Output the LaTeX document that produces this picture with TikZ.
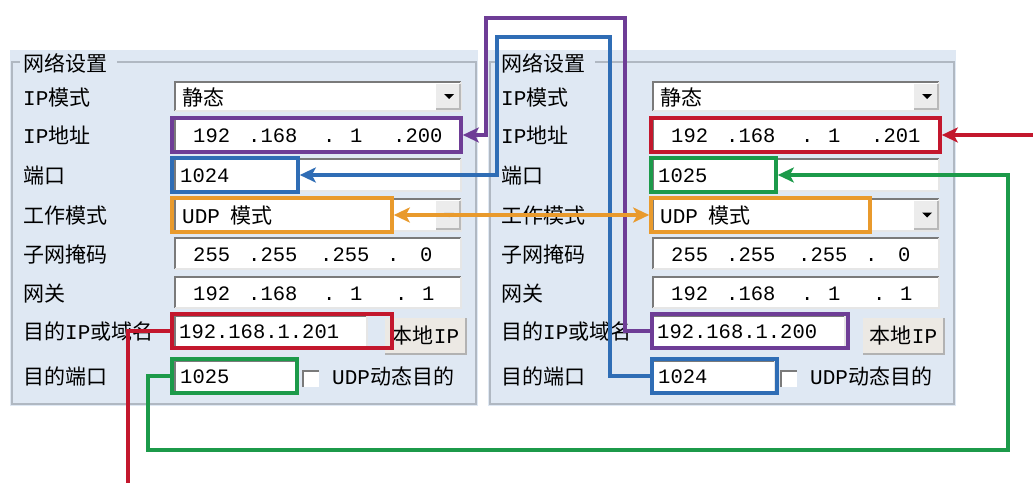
\documentclass[tikz,border=0pt]{standalone}
\usepackage{fontspec}
\newfontfamily\cjk{Noto Sans CJK SC}
\newfontfamily\mono{Liberation Mono}
\usetikzlibrary{arrows.meta}
\definecolor{panelbg}{HTML}{DFE8F3}
\definecolor{groupln}{HTML}{B0B8C2}
\definecolor{fdark}{HTML}{7A7A7A}
\definecolor{flight}{HTML}{E6E6E6}
\definecolor{btnfill}{HTML}{ECE9E4}
\definecolor{cpurple}{HTML}{6E3D96}
\definecolor{cblue}{HTML}{2F6DB5}
\definecolor{corange}{HTML}{E99A2C}
\definecolor{cred}{HTML}{C3172D}
\definecolor{cgreen}{HTML}{1C9A4A}
\tikzset{
  lbl/.style={anchor=base west, inner sep=0pt, font=\fontsize{21}{24}\selectfont\cjk},
  num/.style={anchor=base west, inner sep=0pt, font=\fontsize{20.5}{24}\selectfont\mono},
  hibox/.style={draw, line width=3.6pt, inner sep=0pt, fill=none},
  btn/.style={fill=btnfill, inner sep=0pt, minimum width=81pt, minimum height=36pt,
    font=\fontsize{21}{24}\selectfont\cjk},
  conn/.style={line width=3.2pt},
  tip/.style={-{Stealth[length=16pt,width=15pt,inset=4pt]}},
}
\newcommand\fld[4]{%
  \fill[white] (#1,#2) rectangle (#3,#4);
  \draw[fdark,line width=2pt] (#1,#4) -- (#1,#2) -- (#3,#2);
  \draw[flight,line width=1.2pt] (#3,#2) -- (#3,#4) -- (#1,#4);}
\newcommand\cbtn[3]{%
  \fill[gray!15] (436,#1) rectangle (460,#2);
  \draw[gray!55,line width=1.2pt] (436,#2) -- (460,#2) -- (460,#1);
  \fill[#3] (444,{(#1+#2)/2-2.5}) -- (454,{(#1+#2)/2-2.5}) -- (449,{(#1+#2)/2+2.5}) -- cycle;}
\newcommand\segs[3]{%
  \foreach \sx/\st [count=\si] in {#3} {\node[num] (#1-\si) at (\sx,#2) {\st};}}
\newcommand\panel[7]{%
\begin{scope}[xshift=#1]
  \fill[panelbg] (10,50) rectangle (478,406);
  \draw[groupln,line width=1.2pt] (20,62) -- (12,62) -- (12,404) -- (476,404) -- (476,62) -- (117,62);
  \node[lbl] (#2t) at (23,71) {网络设置};
  \node[lbl] (#2l1) at (23,105) {{\mono IP}模式};
  \node[lbl] (#2l2) at (23,143) {{\mono IP}地址};
  \node[lbl] (#2l3) at (23,183) {端口};
  \node[lbl] (#2l4) at (23,223) {工作模式};
  \node[lbl] (#2l5) at (23,262) {子网掩码};
  \node[lbl] (#2l6) at (23,301) {网关};
  \node[lbl] (#2l7) at (23,339) {目的{\mono IP}或域名};
  \node[lbl] (#2l8) at (23,384) {目的端口};
  \fld{175}{82}{461}{111}\cbtn{84}{109}{black}
  \node[lbl] (#2v1) at (182,105) {静态};
  \fld{175}{119}{461}{151}
  \segs{#2ip}{142}{193/192,248/.168,323/.,350/1,393/.#3}
  \fld{175}{159}{461}{191}
  \node[num] (#2v3) at (180,182) {#4};
  \fld{175}{199}{461}{231}\cbtn{201}{229}{#7}
  \node[lbl] (#2v4) at (182,223) {{\mono UDP}\hspace{10pt}模式};
  \fld{175}{238}{461}{269}
  \segs{#2sn}{261}{193/255,248/.255,320/.255,387/.,420/0}
  \fld{175}{277}{461}{308}
  \segs{#2gw}{300}{193/192,248/.168,323/.,350/1,395/.,422/1}
  \fld{175}{316}{367}{347}
  \node[num] (#2v7) at (179,338) {#5};
  \node[btn] (#2b) at (425.5,335.5) {本地{\mono IP}};
  \draw[gray!60,line width=2pt] (385,353.5) -- (466,353.5) -- (466,317.5);
  \fld{175}{361}{297}{392}
  \node[num] (#2v8) at (180,383) {#6};
  \fill[white] (303,371) rectangle (319,387);
  \draw[fdark,line width=1.5pt] (303,387) -- (303,371) -- (319,371);
  \node[lbl] (#2u) at (332,384) {{\mono UDP}动态目的};
\end{scope}}
\begin{document}
\begin{tikzpicture}[x=1pt,y=-1pt]
\useasboundingbox (0,0) rectangle (1033,482);
\fill[white] (0,0) rectangle (1033,482);
\panel{0pt}{L}{200}{1024}{192.168.1.201}{1025}{gray!45}
\panel{478pt}{R}{201}{1025}{192.168.1.200}{1024}{black}
% highlight boxes
\node[hibox,draw=cpurple,minimum width=289pt,minimum height=34pt] (Lip) at (316.5,135) {};
\node[hibox,draw=cblue,minimum width=126pt,minimum height=34pt] (Lport) at (235,175) {};
\node[hibox,draw=corange,minimum width=220pt,minimum height=34pt] (Lmode) at (282,215) {};
\node[hibox,draw=cred,minimum width=220pt,minimum height=34pt] (Ldip) at (282,331) {};
\node[hibox,draw=cgreen,minimum width=125pt,minimum height=34pt] (Ldport) at (234.5,376) {};
\node[hibox,draw=cred,minimum width=289pt,minimum height=34pt] (Rip) at (795.5,135) {};
\node[hibox,draw=cgreen,minimum width=125pt,minimum height=34pt] (Rport) at (713.5,175) {};
\node[hibox,draw=corange,minimum width=219pt,minimum height=34pt] (Rmode) at (760.5,215) {};
\node[hibox,draw=cpurple,minimum width=196pt,minimum height=34pt] (Rdip) at (750,331) {};
\node[hibox,draw=cblue,minimum width=125pt,minimum height=34pt] (Rdport) at (714.5,376) {};
% connectors
\coordinate (redB) at (128,484);
\coordinate (redR) at (1035,135);
\draw[conn,cpurple,tip] (Rdip.west) -| (625,18) -| (486,135) -- (Lip.east);
\draw[conn,cblue,tip] (Rdport.west) -| (610,37) -| (497,175) -- (Lport.east);
\draw[conn,corange,{Stealth[length=16pt,width=15pt,inset=4pt]}-{Stealth[length=16pt,width=15pt,inset=4pt]}] (Lmode.east) -- (Rmode.west);
\draw[conn,cred] (Ldip.west) -| (redB);
\draw[conn,cred,tip] (redR) -- (Rip.east);
\draw[conn,cgreen,tip] (Ldport.west) -| (148,450) -| (1008,175) -- (Rport.east);
\end{tikzpicture}
\end{document}
